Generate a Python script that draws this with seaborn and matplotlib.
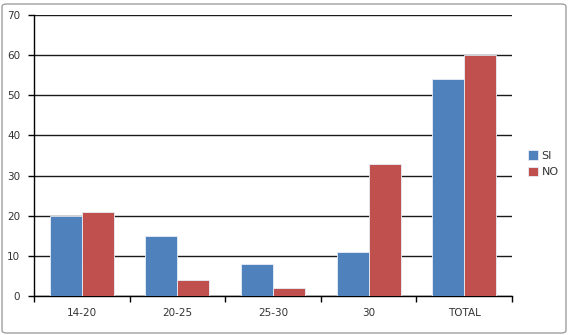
import matplotlib
matplotlib.use("Agg")
import matplotlib.pyplot as plt
import seaborn as sns
import pandas as pd
from matplotlib.patches import FancyBboxPatch

categories = ["14-20", "20-25", "25-30", "30", "TOTAL"]
si_values = [20, 15, 8, 11, 54]
no_values = [21, 4, 2, 33, 60]
series_names = ["SI", "NO"]
colors = ["#4F81BD", "#C0504D"]

df = pd.DataFrame({
    "cat": categories * 2,
    "val": si_values + no_values,
    "serie": [series_names[0]] * len(categories) + [series_names[1]] * len(categories),
})

sns.set_style("white")
plt.rcParams['font.family'] = ['DejaVu Sans']

fig = plt.figure(figsize=(5.7, 3.35), dpi=100)
ax = fig.add_axes([34/570, 1 - 296/335, (512-34)/570, (296-15)/335])

sns.barplot(data=df, x="cat", y="val", hue="serie", palette=colors, ax=ax,
            width=0.67, saturation=1, edgecolor="#e8eef7", linewidth=0.6, zorder=3)

ax.set_ylim(0, 70)
ax.set_xlim(-0.5, len(categories) - 0.5)
ax.set_yticks(range(0, 71, 10))
ax.yaxis.grid(True, color="#1a1a1a", linewidth=1.0, zorder=0)
ax.set_axisbelow(True)
ax.set_xlabel("")
ax.set_ylabel("")
for s in ["top", "right"]:
    ax.spines[s].set_visible(False)
ax.spines["left"].set_color("black")
ax.spines["bottom"].set_color("black")
ax.spines["left"].set_linewidth(1.0)
ax.spines["bottom"].set_linewidth(1.0)

ax.tick_params(axis="y", which="both", left=True, length=4, width=1, color="black",
               labelsize=7.5, labelcolor="#333333", pad=6)
ax.tick_params(axis="x", which="major", bottom=False, labelsize=7.5, labelcolor="#333333", pad=5)
ax.set_xticks([i - 0.5 for i in range(len(categories) + 1)], minor=True)
ax.tick_params(axis="x", which="minor", bottom=True, length=4, width=1, color="black")

leg = ax.legend(loc="center left", bbox_to_anchor=(1.025, 0.47), frameon=False,
                fontsize=8, handlelength=0.9, handleheight=0.9, handletextpad=0.3,
                labelspacing=0.55, borderaxespad=0)
for t in leg.get_texts():
    t.set_color("#333333")

border = FancyBboxPatch((2/570, 2/335), 564/570, 329/335,
                        boxstyle="round,pad=0,rounding_size=0.008",
                        transform=fig.transFigure, fill=False,
                        edgecolor="#a0a0a0", linewidth=1.0)
fig.patches.append(border)

fig.savefig("out.png", dpi=100)
